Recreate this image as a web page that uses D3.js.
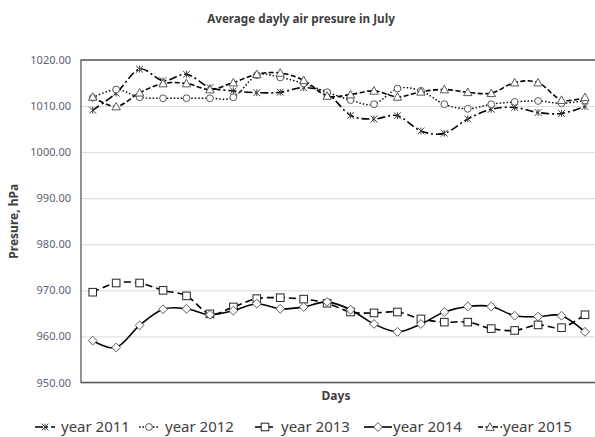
<!DOCTYPE html>
<html>
<head>
<script src="https://d3js.org/d3.v7.min.js"></script>
<style>
  body { margin: 0; background: #fff; }
  #chart { width: 595px; height: 437px; }
  .grid line { stroke: #d9d9d9; stroke-width: 1px; }
  .grid .domain { display: none; }
  .yaxis text { fill: #5a6272; font-family: "Noto Sans", sans-serif; font-size: 11px; }
  .yaxis .domain, .yaxis line { display: none; }
  .ttl { font-family: "Noto Sans", sans-serif; font-weight: bold; fill: #404040; }
  .leg text { font-family: "Noto Sans", sans-serif; font-size: 15px; fill: #404040; }
</style>
</head>
<body>
<div id="chart"></div>
<script>
var days = [1,2,3,4,5,6,7,8,9,10,11,12,13,14,15,16,17,18,19,20,21,22];
var yTicks = [950,960,970,980,990,1000,1010,1020];

var y2011 = [1009.1,1012.8,1018.0,1015.5,1016.9,1014.0,1013.3,1012.9,1013.0,1014.0,1012.8,1008.0,1007.2,1007.9,1004.6,1004.1,1007.2,1009.3,1009.7,1008.6,1008.4,1009.9];
var y2012 = [1011.8,1013.6,1011.9,1011.7,1011.7,1011.7,1011.9,1016.7,1016.2,1014.9,1013.0,1011.3,1010.4,1013.8,1013.3,1010.4,1009.4,1010.4,1010.9,1011.1,1010.6,1011.2];
var y2013 = [969.6,971.6,971.6,970.0,968.8,964.9,966.4,968.2,968.4,968.1,967.2,965.3,965.1,965.3,963.8,963.1,963.1,961.7,961.3,962.5,961.9,964.7];
var y2014 = [959.1,957.6,962.4,965.9,966.0,964.7,965.6,967.1,966.0,966.4,967.5,965.8,962.7,961.0,962.7,965.3,966.5,966.5,964.5,964.3,964.5,961.0];
var y2015 = [1012.0,1009.9,1012.9,1014.9,1014.9,1013.6,1015.1,1016.9,1017.2,1015.6,1012.2,1012.5,1013.3,1012.0,1013.1,1013.6,1013.0,1012.8,1015.1,1015.1,1011.3,1011.9];

var seriesNames = ["year 2011","year 2012","year 2013","year 2014","year 2015"];
var seriesValues = [y2011, y2012, y2013, y2014, y2015];
var seriesDash = ["8,3,2,3", "1.5,2", "7,4", null, "5,2.5"];
var seriesMarker = ["star", "circle", "square", "diamond", "triangle"];

var W = 595, H = 437;
var pL = 81, pT = 60, pR = 596.7, pB = 382.5;

var svg = d3.select("#chart").append("svg")
  .attr("width", W).attr("height", H);

var x = d3.scaleBand().domain(days).range([pL, pR]).padding(0);
var y = d3.scaleLinear().domain([950, 1020]).range([pB, pT]);
function cx(d) { return x(d) + x.bandwidth() / 2; }

// gridlines
svg.append("g").attr("class", "grid")
  .attr("transform", "translate(" + pL + ",0)")
  .call(d3.axisLeft(y).tickValues(yTicks).tickSize(-(pR - pL)).tickFormat(""));

// frame of plot area
svg.append("path")
  .attr("d", "M" + pR + "," + pT + "H" + pL + "V" + pB + "H" + pR)
  .attr("fill", "none").attr("stroke", "#595959").attr("stroke-width", 1.3);

svg.append("g").attr("class", "yaxis")
  .attr("transform", "translate(" + (pL - 10) + ",0)")
  .call(d3.axisLeft(y).tickValues(yTicks).tickSize(0).tickPadding(0).tickFormat(d3.format(".2f")));

// titles
svg.append("text").attr("class", "ttl").attr("x", 301).attr("y", 23)
  .attr("text-anchor", "middle").style("font-size", "11.7px")
  .text("Average dayly air presure in July");
svg.append("text").attr("class", "ttl").attr("x", 336).attr("y", 400)
  .attr("text-anchor", "middle").style("font-size", "12px").text("Days");
svg.append("text").attr("class", "ttl")
  .attr("transform", "translate(18," + ((pT + pB) / 2) + ") rotate(-90)")
  .attr("text-anchor", "middle").style("font-size", "12px").text("Presure, hPa");

function drawMarker(g, type, px, py) {
  var s = 3.4;
  if (type === "circle") {
    g.append("circle").attr("cx", px).attr("cy", py).attr("r", s)
      .attr("fill", "#fff").attr("stroke", "#595959").attr("stroke-width", 1);
  } else if (type === "square") {
    g.append("rect").attr("x", px - s - 0.4).attr("y", py - s - 0.4).attr("width", 2 * s + 0.8).attr("height", 2 * s + 0.8)
      .attr("fill", "#fff").attr("stroke", "#262626").attr("stroke-width", 1);
  } else if (type === "diamond") {
    var d = s + 1;
    g.append("path").attr("d", "M" + px + "," + (py - d) + "L" + (px + d) + "," + py + "L" + px + "," + (py + d) + "L" + (px - d) + "," + py + "Z")
      .attr("fill", "#fff").attr("stroke", "#595959").attr("stroke-width", 1);
  } else if (type === "triangle") {
    var t = s + 0.8;
    g.append("path").attr("d", "M" + px + "," + (py - t) + "L" + (px + t) + "," + (py + t * 0.8) + "L" + (px - t) + "," + (py + t * 0.8) + "Z")
      .attr("fill", "#fff").attr("stroke", "#595959").attr("stroke-width", 1);
  } else if (type === "star") {
    var a = s;
    g.append("path").attr("d", "M" + (px - a) + "," + (py - a) + "L" + (px + a) + "," + (py + a) +
      "M" + (px + a) + "," + (py - a) + "L" + (px - a) + "," + (py + a) +
      "M" + px + "," + (py - a) + "L" + px + "," + (py + a))
      .attr("fill", "none").attr("stroke", "#404040").attr("stroke-width", 1);
  }
}

var line = d3.line()
  .x(function(d, i) { return cx(days[i]); })
  .y(function(d) { return y(d); })
  .curve(d3.curveCardinal.tension(0));

seriesValues.forEach(function(vals, k) {
  var g = svg.append("g");
  g.append("path").datum(vals).attr("d", line)
    .attr("fill", "none").attr("stroke", "#000")
    .attr("stroke-width", k === 1 ? 1.4 : 1.6)
    .attr("stroke-dasharray", seriesDash[k]);
  vals.forEach(function(v, i) { drawMarker(g, seriesMarker[k], cx(days[i]), y(v)); });
});

// legend
var legX = [35, 139, 255, 364, 478];
var legW = [20, 20, 20, 28, 24];
var leg = svg.append("g").attr("class", "leg");
seriesNames.forEach(function(n, k) {
  var lx = legX[k], ly = 427;
  leg.append("line").attr("x1", lx).attr("x2", lx + legW[k]).attr("y1", ly).attr("y2", ly)
    .attr("stroke", "#000").attr("stroke-width", 1.6).attr("stroke-dasharray", seriesDash[k]);
  drawMarker(leg, seriesMarker[k], lx + legW[k] / 2, ly);
  leg.append("text").attr("x", lx + legW[k] + (k >= 3 ? 1 : 6)).attr("y", ly + 5).text(n);
});
</script>
</body>
</html>
